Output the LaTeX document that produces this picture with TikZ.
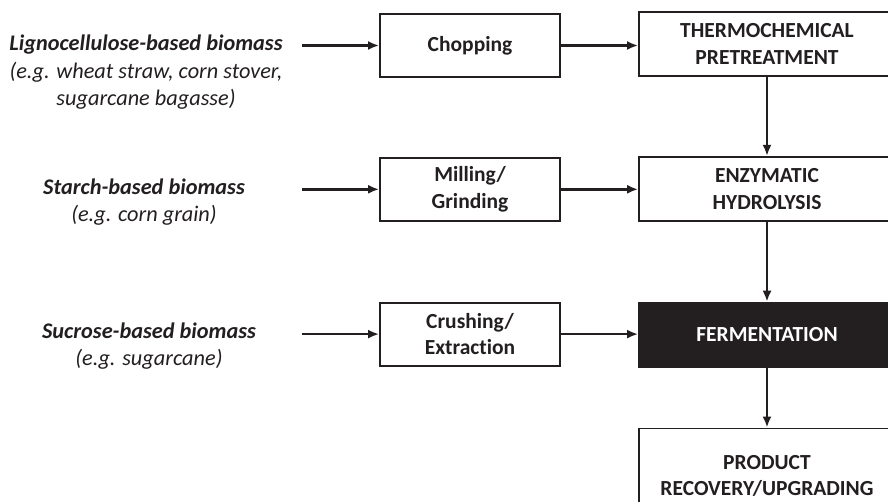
\documentclass[tikz,border=0pt]{standalone}
\usepackage{fontspec}
\setmainfont{Carlito}[Ligatures=NoCommon]
\usetikzlibrary{arrows.meta}
\usetikzlibrary{positioning}
\definecolor{inkgray}{RGB}{35,31,32}

\begin{document}
\begin{tikzpicture}[x=1pt, y=-1pt, node distance=80pt, inkgray,
    font=\fontsize{22.3}{26.5}\selectfont,
    flow/.style={-{Latex[length=11pt,width=9pt]}, line width=2.6pt},
    proc/.style={rectangle, draw=inkgray, line width=1.8pt, fill=white,
    minimum width=180pt, minimum height=63pt, align=center, font=\fontsize{21.5}{26.5}\selectfont\bfseries},
    stage/.style={proc, minimum width=256pt, minimum height=64pt},
    source/.style={inner sep=0pt, font=\fontsize{22.3}{26.5}\selectfont\bfseries\itshape},
    example/.style={inner sep=0pt, anchor=base, font=\fontsize{22.3}{26.5}\selectfont\itshape}]

    \useasboundingbox (0,0) rectangle (888,501);
    \clip (0,0) rectangle (888,501);

    \node[proc] (chop) at (470,45.5) {Chopping};
    \node[proc] (mill) [below=79pt of chop] {Milling/\\Grinding};
    \node[proc] (crush) [below=of mill] {Crushing/\\Extraction};

    \node[stage] (thermo) at (767,44) {THERMOCHEMICAL\\PRETREATMENT};
    \node[stage] (enzyme) [below=79pt of thermo] {ENZYMATIC\\HYDROLYSIS};
    \node[stage, fill=inkgray, text=white] (ferment) [below=80pt of enzyme] {FERMENTATION};
    \node[stage, minimum height=95pt] (product) [below=60pt of ferment] {PRODUCT\\RECOVERY/UPGRADING};

    \node[source] (ligno) at (146,45) {Lignocellulose-based biomass};
    \node[example] (lignoeg) at ([yshift=-27.5pt]ligno.base) {(e.g. wheat straw, corn stover,};
    \node[example] (lignoeg2) at ([yshift=-27.5pt]lignoeg.base) {sugarcane bagasse)};
    \node[source] (starch) at (144,187) {Starch-based biomass};
    \node[example] (starcheg) at ([yshift=-26.5pt]starch.base) {(e.g. corn grain)};
    \node[source] (sucrose) at (149,331) {Sucrose-based biomass};
    \node[example] (sucroseeg) at ([yshift=-27pt]sucrose.base) {(e.g. sugarcane)};

    \coordinate (feed) at (302,0);
    \draw[flow] (feed |- chop.west) -- (chop.west);
    \draw[flow] (feed |- mill.west) -- (mill.west);
    \draw[flow] (feed |- crush.west) -- (crush.west);

    \draw[flow] (chop.east) -- (chop.east -| thermo.west);
    \draw[flow] (mill.east) -- (mill.east -| enzyme.west);
    \draw[flow] (crush.east) -- (crush.east -| ferment.west);

    \draw[flow] (thermo) -- (enzyme);
    \draw[flow] (enzyme) -- (ferment);
    \draw[flow] (ferment) -- (product);
  \end{tikzpicture}
\end{document}
